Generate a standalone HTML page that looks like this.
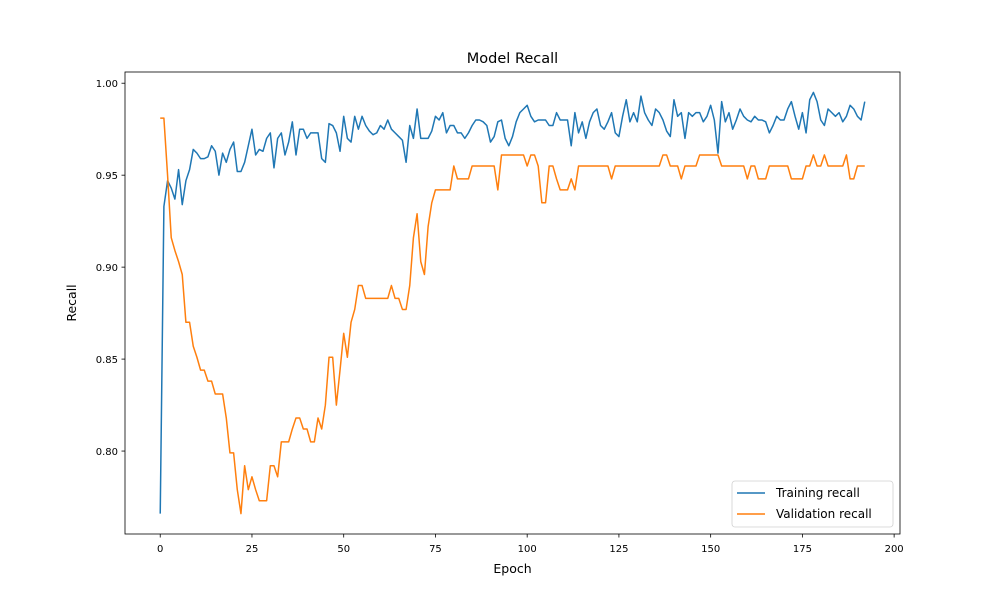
<!DOCTYPE html>
<html><head><meta charset="utf-8"><style>
body{margin:0;background:#fff}
svg{display:block;font-family:"DejaVu Sans","Liberation Sans",sans-serif}
</style></head><body>
<svg id="chart" width="1000" height="600" viewBox="0 0 1000 600">
<rect width="1000" height="600" fill="#fff"/>
<text x="512.5" y="63" font-size="14.5" text-anchor="middle">Model Recall</text>
<g id="plot"></g>
<text x="512.5" y="573" font-size="12.5" text-anchor="middle">Epoch</text>
<text transform="translate(76,303) rotate(-90)" font-size="12.5" text-anchor="middle">Recall</text>
</svg>
<script>
const xTicks=[0,25,50,75,100,125,150,175,200];
const yTicks=[0.80,0.85,0.90,0.95,1.00];
const yTickLabels=["0.80","0.85","0.90","0.95","1.00"];
const trainRecall=[0.766,0.933,0.947,0.943,0.937,0.953,0.934,0.947,0.953,0.964,0.962,0.959,0.959,0.960,0.966,0.963,0.950,0.962,0.957,0.964,0.968,0.952,0.952,0.957,0.966,0.975,0.961,0.964,0.963,0.970,0.973,0.954,0.970,0.973,0.961,0.968,0.979,0.961,0.975,0.975,0.970,0.973,0.973,0.973,0.959,0.957,0.978,0.977,0.973,0.963,0.982,0.970,0.968,0.982,0.975,0.982,0.977,0.974,0.972,0.973,0.977,0.975,0.980,0.975,0.973,0.971,0.969,0.957,0.977,0.970,0.986,0.970,0.970,0.970,0.974,0.982,0.980,0.984,0.973,0.977,0.977,0.973,0.973,0.970,0.973,0.977,0.980,0.980,0.979,0.977,0.968,0.971,0.979,0.980,0.970,0.966,0.971,0.979,0.984,0.986,0.988,0.982,0.979,0.980,0.980,0.980,0.977,0.977,0.984,0.980,0.980,0.980,0.966,0.984,0.973,0.979,0.970,0.979,0.984,0.986,0.977,0.975,0.979,0.984,0.973,0.971,0.982,0.991,0.979,0.984,0.979,0.993,0.984,0.980,0.977,0.986,0.984,0.980,0.974,0.971,0.991,0.982,0.984,0.970,0.984,0.982,0.984,0.984,0.979,0.982,0.988,0.980,0.962,0.990,0.979,0.984,0.975,0.980,0.986,0.982,0.980,0.979,0.982,0.980,0.980,0.979,0.973,0.977,0.982,0.980,0.980,0.986,0.990,0.982,0.975,0.984,0.973,0.991,0.995,0.990,0.980,0.977,0.986,0.984,0.982,0.984,0.979,0.982,0.988,0.986,0.982,0.980,0.990];
const valRecall=[0.981,0.981,0.950,0.916,0.909,0.903,0.896,0.870,0.870,0.857,0.851,0.844,0.844,0.838,0.838,0.831,0.831,0.831,0.818,0.799,0.799,0.779,0.766,0.792,0.779,0.786,0.779,0.773,0.773,0.773,0.792,0.792,0.786,0.805,0.805,0.805,0.812,0.818,0.818,0.812,0.812,0.805,0.805,0.818,0.812,0.825,0.851,0.851,0.825,0.844,0.864,0.851,0.870,0.877,0.890,0.890,0.883,0.883,0.883,0.883,0.883,0.883,0.883,0.890,0.883,0.883,0.877,0.877,0.890,0.916,0.929,0.903,0.896,0.922,0.935,0.942,0.942,0.942,0.942,0.942,0.955,0.948,0.948,0.948,0.948,0.955,0.955,0.955,0.955,0.955,0.955,0.955,0.942,0.961,0.961,0.961,0.961,0.961,0.961,0.961,0.955,0.961,0.961,0.955,0.935,0.935,0.955,0.955,0.948,0.942,0.942,0.942,0.948,0.942,0.955,0.955,0.955,0.955,0.955,0.955,0.955,0.955,0.955,0.948,0.955,0.955,0.955,0.955,0.955,0.955,0.955,0.955,0.955,0.955,0.955,0.955,0.955,0.961,0.961,0.955,0.955,0.955,0.948,0.955,0.955,0.955,0.955,0.961,0.961,0.961,0.961,0.961,0.961,0.955,0.955,0.955,0.955,0.955,0.955,0.955,0.948,0.955,0.955,0.948,0.948,0.948,0.955,0.955,0.955,0.955,0.955,0.955,0.948,0.948,0.948,0.948,0.955,0.955,0.961,0.955,0.955,0.961,0.955,0.955,0.955,0.955,0.955,0.961,0.948,0.948,0.955,0.955,0.955];
const L=125,R=900,T=72,B=534;
const xMin=-9.6,xMax=201.6,yMin=0.7549,yMax=1.0061;
const xs=v=>L+(v-xMin)/(xMax-xMin)*(R-L);
const ys=v=>B-(v-yMin)/(yMax-yMin)*(B-T);
const NS="http://www.w3.org/2000/svg";
const g=document.getElementById('plot');
function mk(t,a,p){const e=document.createElementNS(NS,t);for(const k in a)e.setAttribute(k,a[k]);(p||g).appendChild(e);return e;}
function series(d,color,name){
  const pts=d.map((v,i)=>xs(i).toFixed(2)+','+ys(v).toFixed(2)).join(' ');
  const e=mk('polyline',{points:pts,fill:'none',stroke:color,'stroke-width':1.5,'stroke-linejoin':'round'});
  
  
}
series(trainRecall,'#1f77b4','training-recall-line');
series(valRecall,'#ff7f0e','validation-recall-line');
const frame=mk('rect',{x:L,y:T,width:R-L,height:B-T,fill:'none',stroke:'#000','stroke-width':0.8});


xTicks.forEach(t=>{
  const x=xs(t);
  const tk=mk('line',{x1:x,y1:B,x2:x,y2:B+3.5,stroke:'#000','stroke-width':0.8});
  
  
  const tx=mk('text',{x:x,y:B+18,'font-size':10,'text-anchor':'middle'});
  
  
  tx.textContent=t;
});
yTicks.forEach((t,i)=>{
  const y=ys(t);
  const tk=mk('line',{x1:L-3.5,y1:y,x2:L,y2:y,stroke:'#000','stroke-width':0.8});
  
  
  const tx=mk('text',{x:L-7,y:y+4,'font-size':10,'text-anchor':'end'});
  
  
  tx.textContent=yTickLabels[i];
});
const lg=mk('g',{});


mk('rect',{x:732,y:481,width:161,height:46,rx:3,fill:'#fff',stroke:'#ccc','stroke-width':0.8,opacity:0.9},lg);
[['Training recall','#1f77b4',493],['Validation recall','#ff7f0e',514]].forEach(([n,c,y])=>{
  const en=mk('g',{},lg);
  
  
  mk('line',{x1:737,y1:y,x2:765,y2:y,stroke:c,'stroke-width':1.5},en);
  const t=mk('text',{x:776,y:y+4,'font-size':12},en);
  t.textContent=n;
});
</script>
</body></html>
